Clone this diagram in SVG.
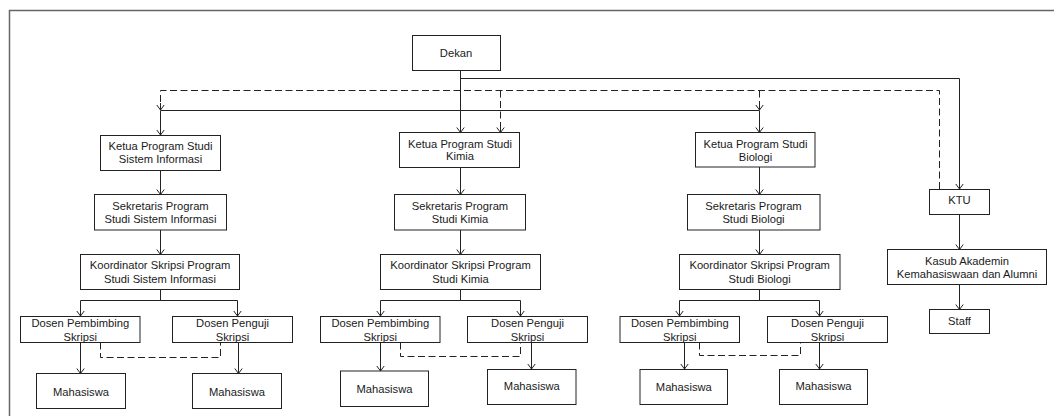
<svg xmlns="http://www.w3.org/2000/svg" width="1054" height="416" viewBox="0 0 1054 416">
<style>
.box{fill:#fff;stroke:#222;stroke-width:1}
.t{font-family:"Liberation Sans",Arial,sans-serif;font-size:11.2px;fill:#1a1a1a;text-anchor:middle}
.ln{fill:none;stroke:#222;stroke-width:1}
.ar{marker-end:url(#arr)}
.dash{fill:none;stroke:#222;stroke-width:1;stroke-dasharray:7,3.5}
.frame{fill:none;stroke:#666;stroke-width:1.5}
</style>
<defs>
<marker id="arr" markerUnits="userSpaceOnUse" markerWidth="12" markerHeight="12" refX="0" refY="0" viewBox="-7 -6 8 12" orient="auto" overflow="visible">
<path d="M-5,-3.7 L0,0 L-5,3.7" fill="none" stroke="#222" stroke-width="1"/>
</marker>
</defs>
<path class="frame" d="M9.5,416 L9.5,10.5 L1054,10.5"/>
<g id="connectors">
<path class="ln ar" d="M460.5,70 L460.5,132.5"/>
<path class="ln ar" d="M460.5,78.5 L959.5,78.5 L959.5,189"/>
<path class="ln" d="M160.5,110.5 L759.5,110.5"/>
<path class="ln ar" d="M160.5,110.5 L160.5,135"/>
<path class="ln ar" d="M759.5,110.5 L759.5,132.5"/>
<path class="dash" d="M939.5,189 L939.5,90.5 L160.5,90.5 L160.5,104"/>
<path class="ln ar" d="M160.5,103 L160.5,110"/>
<path class="dash" d="M500.5,90.5 L500.5,126"/>
<path class="ln ar" d="M500.5,125 L500.5,132.5"/>
<path class="dash" d="M759.5,90.5 L759.5,104"/>
<path class="ln ar" d="M759.5,103 L759.5,110"/>
<!-- SI -->
<path class="ln ar" d="M160.5,170 L160.5,194.5"/>
<path class="ln ar" d="M160.5,230 L160.5,254.5"/>
<path class="ln" d="M160.5,289.5 L160.5,300.5 M80.5,300.5 L237.5,300.5"/>
<path class="ln ar" d="M80.5,300.5 L80.5,316"/>
<path class="ln ar" d="M237.5,300.5 L237.5,316"/>
<path class="ln ar" d="M80.5,342.5 L80.5,373.5"/>
<path class="ln ar" d="M238.5,342.5 L238.5,373.5"/>
<path class="dash" d="M100.5,342.5 L100.5,357.5 L220.5,357.5 L220.5,342.5"/>
<!-- Kimia -->
<path class="ln ar" d="M460.5,167.5 L460.5,194.5"/>
<path class="ln ar" d="M460.5,230 L460.5,254.5"/>
<path class="ln" d="M460.5,289.5 L460.5,300.5 M380.5,300.5 L520.5,300.5"/>
<path class="ln ar" d="M380.5,300.5 L380.5,316"/>
<path class="ln ar" d="M520.5,300.5 L520.5,316"/>
<path class="ln ar" d="M380.5,342.5 L380.5,371"/>
<path class="ln ar" d="M531.5,342.5 L531.5,369"/>
<path class="dash" d="M400.5,342.5 L400.5,356.5 L520.5,356.5 L520.5,342.5"/>
<!-- Biologi -->
<path class="ln ar" d="M759.5,167 L759.5,194.5"/>
<path class="ln ar" d="M759.5,230 L759.5,254.5"/>
<path class="ln" d="M759.5,289.5 L759.5,300.5 M679.5,300.5 L819.5,300.5"/>
<path class="ln ar" d="M679.5,300.5 L679.5,316"/>
<path class="ln ar" d="M819.5,300.5 L819.5,316"/>
<path class="ln ar" d="M684.5,342.5 L684.5,369"/>
<path class="ln ar" d="M819.5,342.5 L819.5,369"/>
<path class="dash" d="M699.5,342.5 L699.5,355.5 L800.5,355.5 L800.5,342.5"/>
<!-- KTU -->
<path class="ln ar" d="M959.5,214.5 L959.5,249.5"/>
<path class="ln ar" d="M959.5,284.5 L959.5,309.5"/>
</g>
<g id="dekan"><rect class="box" x="412.5" y="35.5" width="88" height="35"/><text class="t" x="456" y="56.5">Dekan</text></g>
<g id="ketua-si"><rect class="box" x="100.5" y="135.5" width="120" height="35"/><text class="t" x="160.5" y="150">Ketua Program Studi</text><text class="t" x="160.5" y="163">Sistem Informasi</text></g>
<g id="ketua-kimia"><rect class="box" x="399.5" y="132.5" width="120" height="35"/><text class="t" x="460" y="148">Ketua Program Studi</text><text class="t" x="460" y="160">Kimia</text></g>
<g id="ketua-bio"><rect class="box" x="695.5" y="132.5" width="119.5" height="34.5"/><text class="t" x="755.5" y="147.5">Ketua Program Studi</text><text class="t" x="755.5" y="160.5">Biologi</text></g>
<g id="sek-si"><rect class="box" x="94.5" y="194.5" width="132" height="35.5"/><text class="t" x="160.5" y="210">Sekretaris Program</text><text class="t" x="160.5" y="222.5">Studi Sistem Informasi</text></g>
<g id="sek-kimia"><rect class="box" x="394.5" y="194.5" width="131" height="35.5"/><text class="t" x="460" y="210">Sekretaris Program</text><text class="t" x="460" y="222.5">Studi Kimia</text></g>
<g id="sek-bio"><rect class="box" x="687.5" y="194.5" width="132.5" height="35.5"/><text class="t" x="753.5" y="210">Sekretaris Program</text><text class="t" x="753.5" y="222.5">Studi Biologi</text></g>
<g id="koor-si"><rect class="box" x="80.5" y="254.5" width="159" height="35"/><text class="t" x="160" y="269">Koordinator Skripsi Program</text><text class="t" x="160" y="283">Studi Sistem Informasi</text></g>
<g id="koor-kimia"><rect class="box" x="380.5" y="254.5" width="160" height="35"/><text class="t" x="460.5" y="269">Koordinator Skripsi Program</text><text class="t" x="460.5" y="283">Studi Kimia</text></g>
<g id="koor-bio"><rect class="box" x="679.5" y="254.5" width="160.5" height="35"/><text class="t" x="759.7" y="269">Koordinator Skripsi Program</text><text class="t" x="759.7" y="283">Studi Biologi</text></g>
<g id="dp-si"><rect class="box" x="20.5" y="316.5" width="119.5" height="26"/><text class="t" x="80.3" y="326.7">Dosen Pembimbing</text><text class="t" x="80.3" y="340.5">Skripsi</text></g>
<g id="dpeng-si"><rect class="box" x="172.5" y="316.5" width="120" height="26"/><text class="t" x="232.5" y="326.7">Dosen Penguji</text><text class="t" x="232.5" y="340.5">Skripsi</text></g>
<g id="dp-kimia"><rect class="box" x="320.5" y="316.5" width="119.5" height="26"/><text class="t" x="380.3" y="326.7">Dosen Pembimbing</text><text class="t" x="380.3" y="340.5">Skripsi</text></g>
<g id="dpeng-kimia"><rect class="box" x="467.5" y="316.5" width="120" height="26"/><text class="t" x="527.5" y="326.7">Dosen Penguji</text><text class="t" x="527.5" y="340.5">Skripsi</text></g>
<g id="dp-bio"><rect class="box" x="620" y="316.5" width="119.5" height="26"/><text class="t" x="679.8" y="326.7">Dosen Pembimbing</text><text class="t" x="679.8" y="340.5">Skripsi</text></g>
<g id="dpeng-bio"><rect class="box" x="767.5" y="316.5" width="120" height="26"/><text class="t" x="827.5" y="326.7">Dosen Penguji</text><text class="t" x="827.5" y="340.5">Skripsi</text></g>
<g id="mhs-si-1"><rect class="box" x="36.5" y="373.5" width="89" height="35"/><text class="t" x="81" y="395.7">Mahasiswa</text></g>
<g id="mhs-si-2"><rect class="box" x="192.5" y="373.5" width="89" height="35"/><text class="t" x="237" y="395.7">Mahasiswa</text></g>
<g id="mhs-kimia-1"><rect class="box" x="340.5" y="371" width="88" height="35.5"/><text class="t" x="384.5" y="393">Mahasiswa</text></g>
<g id="mhs-kimia-2"><rect class="box" x="487.5" y="369.5" width="88.5" height="35"/><text class="t" x="531.8" y="389.7">Mahasiswa</text></g>
<g id="mhs-bio-1"><rect class="box" x="640" y="369.5" width="87.5" height="35"/><text class="t" x="683.8" y="391.3">Mahasiswa</text></g>
<g id="mhs-bio-2"><rect class="box" x="779.5" y="369.5" width="88" height="35"/><text class="t" x="823.5" y="389.7">Mahasiswa</text></g>
<g id="ktu"><rect class="box" x="929.5" y="189.5" width="60" height="25"/><text class="t" x="959.5" y="204">KTU</text></g>
<g id="kasub"><rect class="box" x="887.5" y="249.5" width="159" height="35"/><text class="t" x="967" y="265">Kasub Akademin</text><text class="t" x="967" y="277.5">Kemahasiswaan dan Alumni</text></g>
<g id="staff"><rect class="box" x="929.5" y="309.5" width="60" height="24"/><text class="t" x="959.5" y="325">Staff</text></g>
</svg>
